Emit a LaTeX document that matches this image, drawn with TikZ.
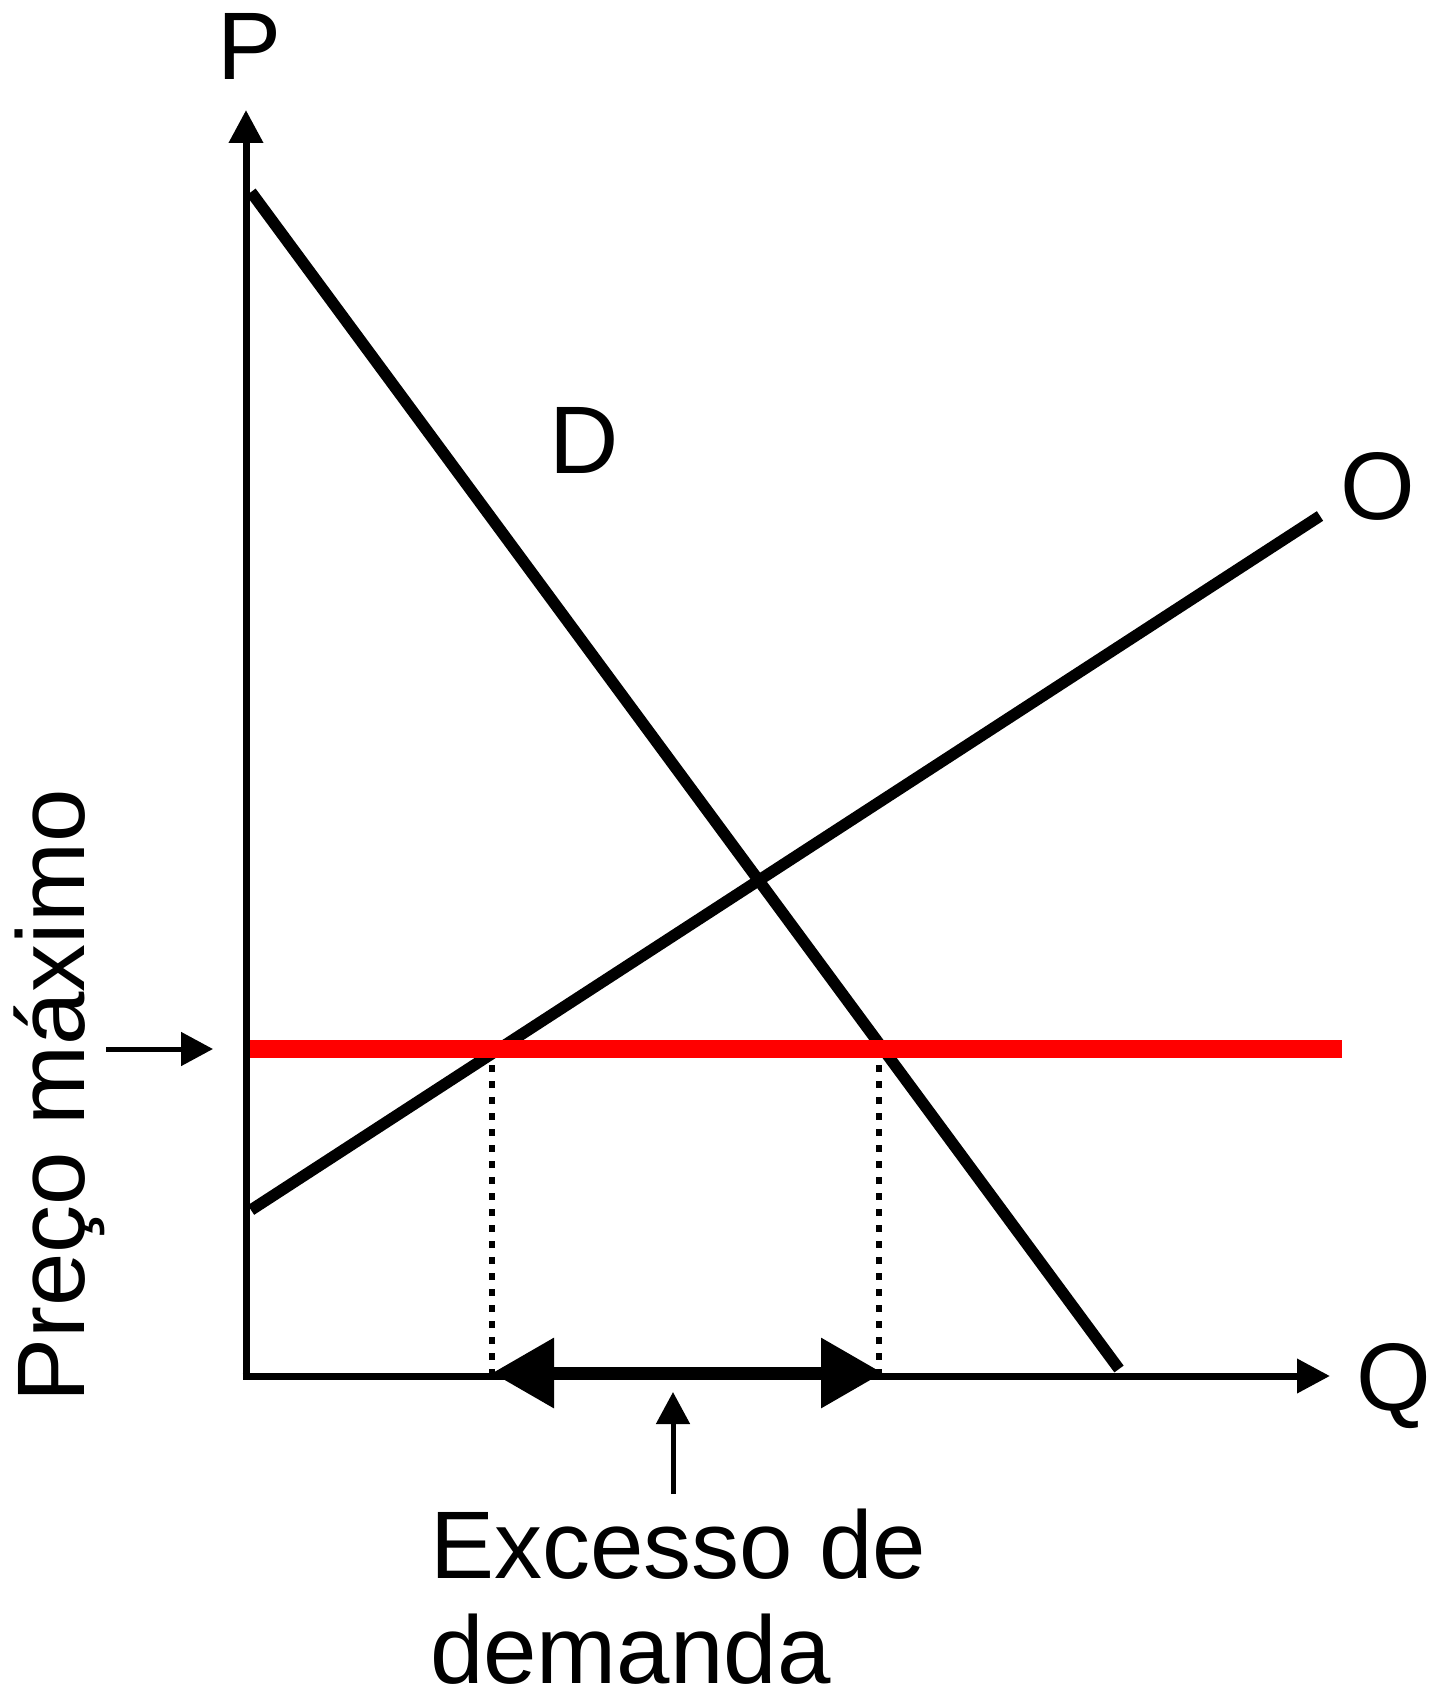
\documentclass[tikz,border=0pt]{standalone}
\usepackage{fontspec}
\setmainfont{Liberation Sans}
\usetikzlibrary{arrows.meta}
\begin{document}
\begin{tikzpicture}[x=1pt,y=-1pt,
  axis/.style={line width=7pt, -{Triangle[length=33pt,width=33pt]}},
  curve/.style={line width=11.5pt},
  ceiling/.style={line width=18pt, color=red},
  guide/.style={line width=6.5pt, dash pattern=on 7pt off 9pt},
  gap/.style={line width=13pt, {Triangle[length=62pt,width=67pt]}-{Triangle[length=62pt,width=67pt]}},
  pointer/.style={line width=5pt, -{Triangle[length=32pt,width=33pt]}},
  lbl/.style={inner sep=0pt, font=\fontsize{96}{105}\selectfont}]
\useasboundingbox (0,0) rectangle (1446,1693);
% coordinates
\coordinate (orig) at (246,1376);
\coordinate (ytop) at (246,110);
\coordinate (xend) at (1330,1376);
\coordinate (d1) at (251,192);
\coordinate (d2) at (1119,1369);
\coordinate (s1) at (251,1210);
\coordinate (s2) at (1320,516);
\coordinate (r1) at (250,1049);
\coordinate (r2) at (1342,1049);
\coordinate (q1top) at (492,1049);
\coordinate (q1bot) at (492,1376);
\coordinate (q2top) at (879,1049);
\coordinate (q2bot) at (879,1376);
\coordinate (ga) at (492,1373);
\coordinate (gb) at (883,1373);
\coordinate (pa) at (673,1494);
\coordinate (pb) at (673,1392);
\coordinate (ma) at (106,1049);
\coordinate (mb) at (213,1049);
% axes
\draw[axis] (orig) -- (ytop);
\draw[axis] ([xshift=-3.5pt]orig) -- (xend);
% curves
\draw[curve] (d1) -- (d2);
\draw[curve] (s1) -- (s2);
% dotted guides
\draw[guide] (q1top) -- (q1bot);
\draw[guide] (q2top) -- (q2bot);
% price ceiling
\draw[ceiling] (r1) -- (r2);
% excess demand arrow
\draw[gap] (ga) -- (gb);
\draw[pointer] (pa) -- (pb);
\draw[pointer] (ma) -- (mb);
% labels
\node[lbl, anchor=base] (P) at (250,80) {P};
\node[lbl, anchor=base] (Q) at (1394,1410) {Q};
\node[lbl, anchor=base] (D) at (584,473) {D};
\node[lbl, anchor=base] (O) at (1378,519) {O};
\node[lbl, anchor=base, rotate=90] (pmax) at (84,1096) {Preço máximo};
\node[lbl, anchor=base west, align=left] (exc) at (430,1683) {Excesso de\\demanda};
\end{tikzpicture}
\end{document}
